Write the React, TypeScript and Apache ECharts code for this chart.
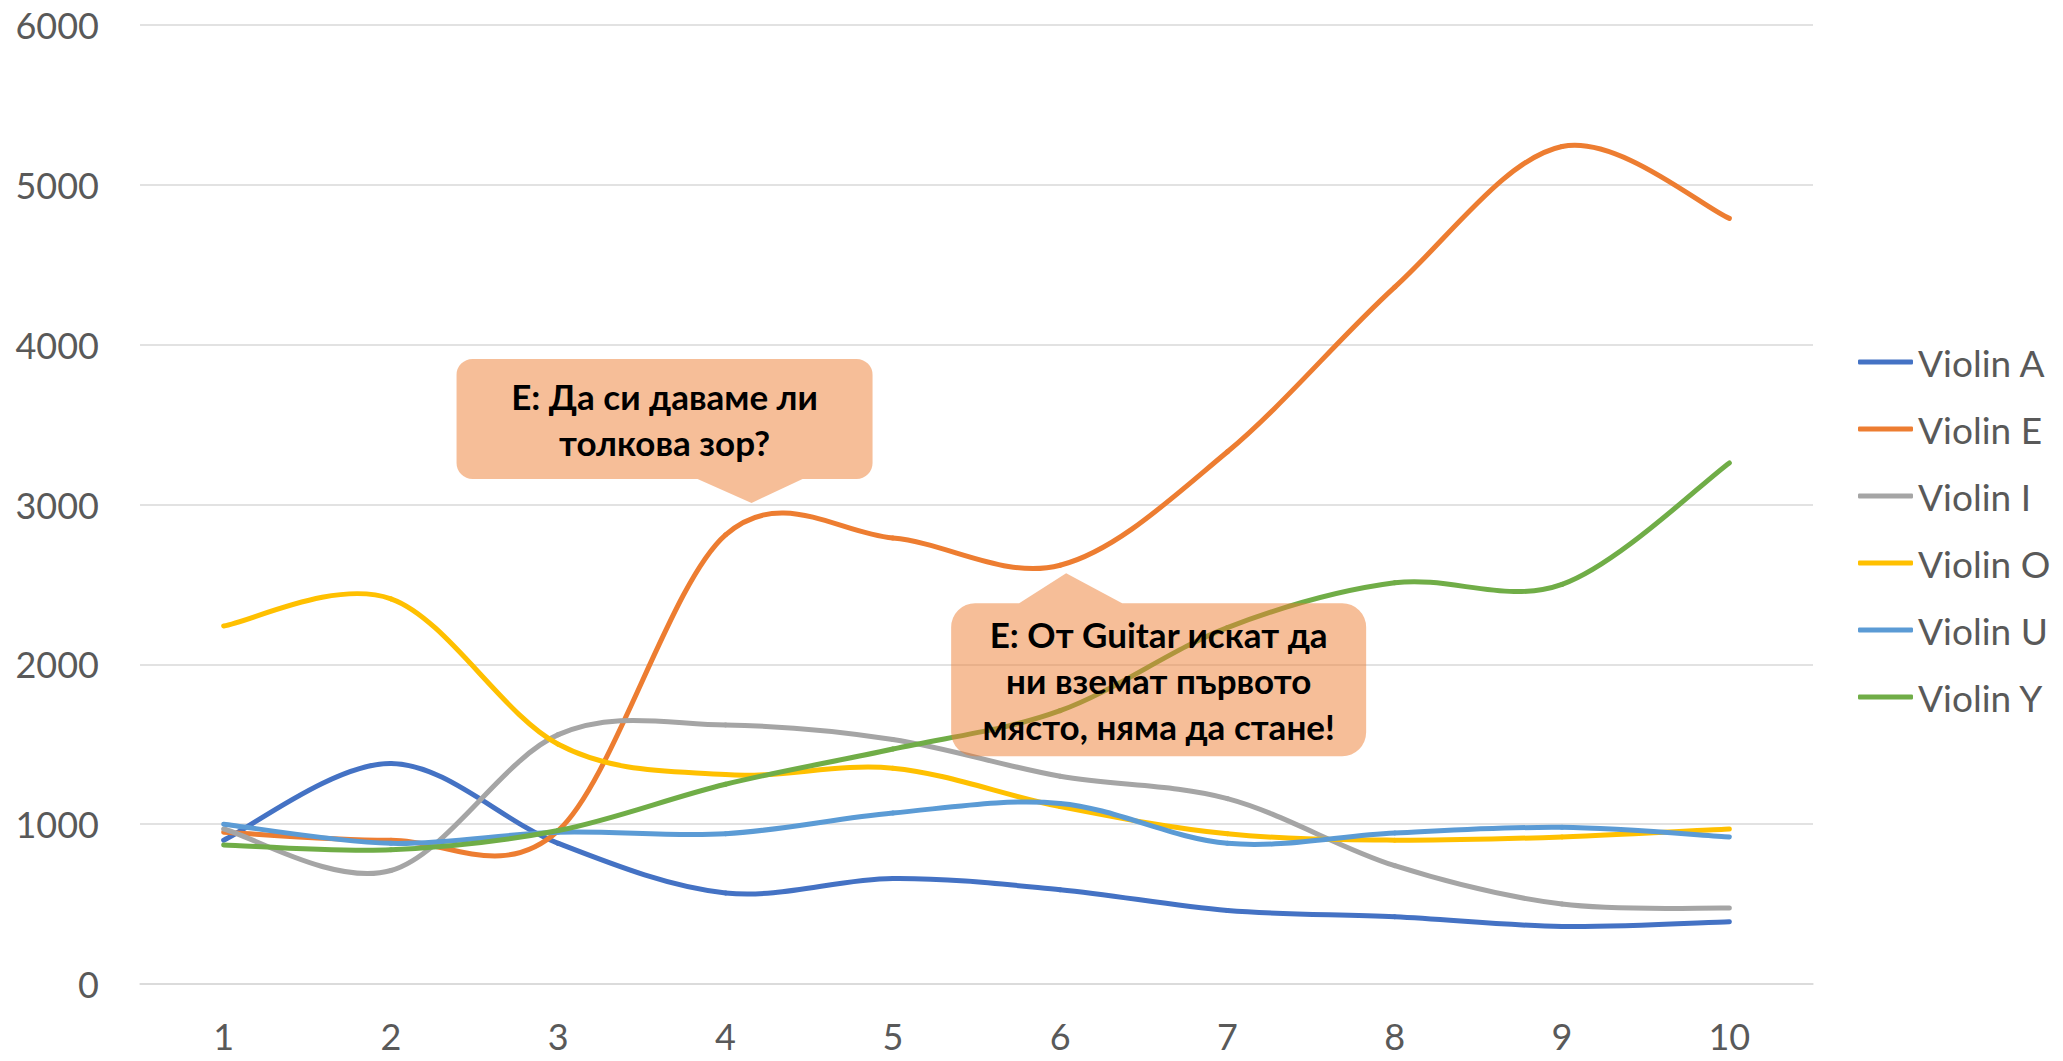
import React, { useEffect, useRef } from "react";
import * as echarts from "echarts";

const categories = ["1", "2", "3", "4", "5", "6", "7", "8", "9", "10"];
const seriesNames = ["Violin A", "Violin E", "Violin I", "Violin O", "Violin U", "Violin Y"];
const violinA = [900, 1380, 880, 570, 660, 590, 460, 420, 360, 390];
const violinE = [950, 900, 960, 2810, 2790, 2620, 3330, 4360, 5240, 4790];
const violinI = [970, 710, 1560, 1620, 1530, 1300, 1160, 740, 500, 475];
const violinO = [2240, 2410, 1500, 1310, 1350, 1110, 940, 900, 920, 970];
const violinU = [1000, 880, 950, 940, 1070, 1130, 880, 945, 980, 920];
const violinY = [870, 840, 960, 1250, 1470, 1710, 2230, 2510, 2500, 3260];
const seriesColors = ["#4472C4", "#ED7D31", "#A5A5A5", "#FFC000", "#5B9BD5", "#70AD47"];

const calloutTexts = ["Е: Да си даваме ли\nтолкова зор?", "Е: От Guitar искат да\nни вземат първото\nмясто, няма да стане!"];
const calloutAnchorCategory = [3, 5];
const calloutAnchorValue = [3010, 2570];

// geometry of callouts relative to their pointer tip
const c1 = { L: -295, T: -144, W: 416, H: 120, r: 16, b1: -54, b2: 51, dx: 26 };
const c2 = { L: -115, T: 30, W: 415, H: 153, r: 24, b1: -47, b2: 56, dx: 6 };

function pathDown(c: typeof c1) {
  const { L, T, W, H, r, b1, b2 } = c;
  const R = L + W, B = T + H;
  return `M ${L + r} ${T} L ${R - r} ${T} A ${r} ${r} 0 0 1 ${R} ${T + r} L ${R} ${B - r} A ${r} ${r} 0 0 1 ${R - r} ${B} L ${b2} ${B} L 0 0 L ${b1} ${B} L ${L + r} ${B} A ${r} ${r} 0 0 1 ${L} ${B - r} L ${L} ${T + r} A ${r} ${r} 0 0 1 ${L + r} ${T} Z`;
}
function pathUp(c: typeof c1) {
  const { L, T, W, H, r, b1, b2 } = c;
  const R = L + W, B = T + H;
  return `M ${L + r} ${T} L ${b1} ${T} L 0 0 L ${b2} ${T} L ${R - r} ${T} A ${r} ${r} 0 0 1 ${R} ${T + r} L ${R} ${B - r} A ${r} ${r} 0 0 1 ${R - r} ${B} L ${L + r} ${B} A ${r} ${r} 0 0 1 ${L} ${B - r} L ${L} ${T + r} A ${r} ${r} 0 0 1 ${L + r} ${T} Z`;
}

echarts.graphic.registerShape("callout1", echarts.graphic.extendPath(pathDown(c1), {}));
echarts.graphic.registerShape("callout2", echarts.graphic.extendPath(pathUp(c2), {}));

const FONT = "Lato, 'Open Sans', 'Noto Sans', sans-serif";

// Catmull-Rom style smoothed segment (like Excel's smoothed line), drawn through the axes' coord system
function makeRenderItem(color: string) {
  return (params: any, api: any) => {
    const i = params.dataIndexInside;
    const n = params.dataInsideLength;
    if (i >= n - 1) return null;
    const pt = (j: number) => {
      const k = Math.max(0, Math.min(n - 1, j));
      return api.coord([api.value(0, k), api.value(1, k)]);
    };
    const p0 = pt(i - 1), p1 = pt(i), p2 = pt(i + 1), p3 = pt(i + 2);
    const t = 1 / 6;
    return {
      type: "bezierCurve",
      shape: {
        x1: p1[0], y1: p1[1],
        x2: p2[0], y2: p2[1],
        cpx1: p1[0] + (p2[0] - p0[0]) * t,
        cpy1: p1[1] + (p2[1] - p0[1]) * t,
        cpx2: p2[0] - (p3[0] - p1[0]) * t,
        cpy2: p2[1] - (p3[1] - p1[1]) * t,
      },
      style: { stroke: color, lineWidth: 5, fill: "none", lineCap: "round" },
      silent: true,
    };
  };
}

export default function App() {
  const ref = useRef<HTMLDivElement>(null);
  useEffect(() => {
    document.body.style.margin = "0";
    const chart = echarts.init(ref.current!, null, { renderer: "svg" });
    const data = [violinA, violinE, violinI, violinO, violinU, violinY];
    const option: any = {
      animation: false,
      backgroundColor: "#FFFFFF",
      textStyle: { fontFamily: FONT },
      grid: { left: 140, right: 250, top: 25, bottom: 77, containLabel: false },
      xAxis: {
        type: "category",
        data: categories,
        boundaryGap: true,
        axisLine: { show: true, lineStyle: { color: "#D9D9D9", width: 1.5 } },
        axisTick: { show: false },
        axisLabel: { fontSize: 36, color: "#595959", margin: 34, fontFamily: FONT },
        splitLine: { show: false },
      },
      yAxis: {
        type: "value",
        min: 0,
        max: 6000,
        interval: 1000,
        axisLine: { show: false },
        axisTick: { show: false },
        axisLabel: { fontSize: 36, color: "#595959", margin: 41, fontFamily: FONT, formatter: (v: number) => String(v) },
        splitLine: { lineStyle: { color: "#D9D9D9", width: 1.5 } },
      },
      legend: {
        orient: "vertical",
        left: 1853,
        top: 337,
        icon: "roundRect",
        itemWidth: 55,
        itemHeight: 5,
        itemGap: 27,
        textStyle: { fontSize: 37, color: "#595959", fontFamily: FONT, lineHeight: 40 },
        data: seriesNames,
      },
      series: seriesNames.map((name, i) => ({
        name,
        type: "custom",
        data: data[i].map((v, j) => [j, v]),
        encode: { x: 0, y: 1 },
        itemStyle: { color: seriesColors[i] },
        renderItem: makeRenderItem(seriesColors[i]),
        clip: false,
        z: 2 + i * 0.01,
      })),
    };
    chart.setOption(option);

    const shapes = [c1, c2];
    const graphics: any[] = [];
    for (let k = 0; k < 2; k++) {
      const p = chart.convertToPixel({ xAxisIndex: 0, yAxisIndex: 0 }, [calloutAnchorCategory[k], calloutAnchorValue[k]]) as number[];
      const c = shapes[k];
      const tx = p[0] + c.dx;
      const ty = p[1];
      graphics.push({
        type: k === 0 ? "callout1" : "callout2",
        x: tx,
        y: ty,
        z: 100,
        style: { fill: "rgba(237,125,49,0.5)", stroke: "none" },
        silent: true,
      });
      graphics.push({
        type: "text",
        x: tx + c.L + c.W / 2,
        y: ty + c.T + c.H / 2,
        z: 101,
        style: {
          text: calloutTexts[k],
          fill: "#000000",
          fontSize: 35,
          fontWeight: "bold",
          fontFamily: FONT,
          align: "center",
          verticalAlign: "middle",
          lineHeight: 46,
        },
        silent: true,
      });
    }
    chart.setOption({ graphic: graphics });
    return () => chart.dispose();
  }, []);
  return <div ref={ref} style={{ position: "fixed", left: 0, top: 0, width: 2063, height: 1061 }} />;
}
